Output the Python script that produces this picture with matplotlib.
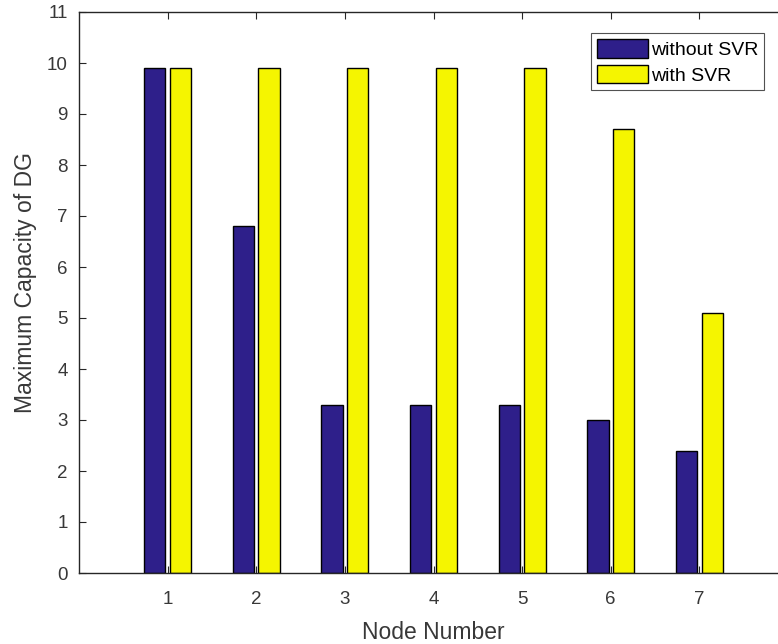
import matplotlib.pyplot as plt
import numpy as np

plt.rcParams['font.family'] = ['Liberation Sans', 'DejaVu Sans']

nodes = [1, 2, 3, 4, 5, 6, 7]
without_svr = [9.9, 6.8, 3.3, 3.3, 3.3, 3.0, 2.4]
with_svr = [9.9, 9.9, 9.9, 9.9, 9.9, 8.7, 5.1]

fig = plt.figure(figsize=(7.78, 6.44), dpi=100)
# axes runs a little past the right edge, as in the cropped original
ax = fig.add_axes([79 / 778, 71 / 644, 709 / 778, 561 / 644])

x = np.array(nodes)
b1 = ax.bar(x - 0.145, without_svr, width=0.24, color='#2e1f8a',
            edgecolor='black', linewidth=1.0, label='without SVR')
b2 = ax.bar(x + 0.145, with_svr, width=0.24, color='#f5f500',
            edgecolor='black', linewidth=1.0, label='with SVR')

ax.set_xlim(0, 8)
ax.set_ylim(0, 11)
ax.set_xticks(nodes)
ax.set_yticks(range(0, 12))
ax.tick_params(direction='in', length=5, width=0.8, top=True, right=True,
               labelsize=13.5, colors='#262626', labelcolor='#383838')
ax.tick_params(axis='x', pad=13)
ax.tick_params(axis='y', pad=8)
for s in ax.spines.values():
    s.set_linewidth(1.0)
    s.set_color('#262626')

ax.set_xlabel('Node Number', fontsize=16.5, color='#383838', labelpad=9)
ax.set_ylabel('Maximum Capacity of DG', fontsize=16.5, color='#383838')
ax.yaxis.set_label_coords(-0.059, 0.517)

leg = fig.legend(handles=[b1, b2], loc='upper left',
                 bbox_to_anchor=(591 / 778, 1 - 33 / 644),
                 fontsize=14, frameon=True, fancybox=False,
                 handlelength=2.65, handleheight=1.1, handletextpad=0.15,
                 borderpad=0.3, labelspacing=0.3, borderaxespad=0)
leg.get_frame().set_edgecolor('#262626')
leg.get_frame().set_linewidth(0.8)

fig.savefig('out.png', dpi=100)
